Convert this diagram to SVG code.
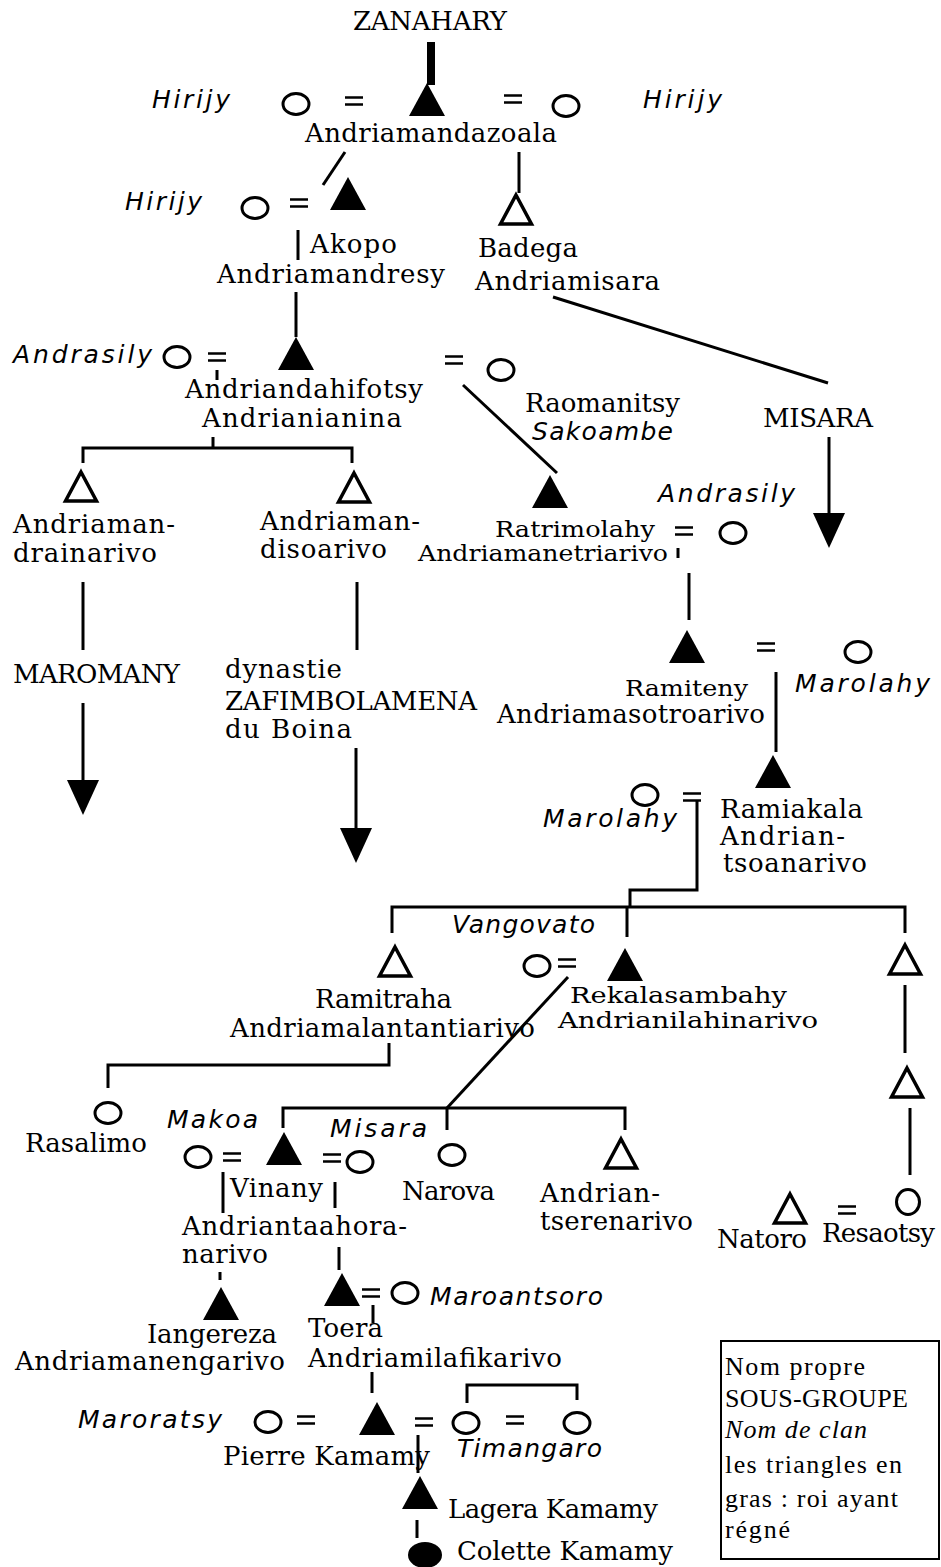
<svg xmlns="http://www.w3.org/2000/svg" width="941" height="1567" viewBox="0 0 941 1567">
<style>
.t{font-family:"DejaVu Serif","Liberation Serif",serif;font-size:26px;fill:#000}
.s{font-size:22px}
.i{font-family:"DejaVu Sans","Liberation Sans",sans-serif;font-style:italic;font-size:25px;fill:#000}
.lg{font-family:"Liberation Serif","Times New Roman",serif;font-size:26px;fill:#000}
.li{font-family:"Liberation Serif","Times New Roman",serif;font-style:italic;font-size:26px;fill:#000}
.ln{stroke:#000;stroke-width:3;fill:none}
.tf{fill:#000}
.to{fill:none;stroke:#000;stroke-width:3.5;stroke-linejoin:miter}
.ci{fill:none;stroke:#000;stroke-width:3}
.eq{stroke:#000;stroke-width:2.5;fill:none}
.ar{stroke:#000;stroke-width:3;fill:none;marker-end:url(#ah)}
</style>
<defs>
<path id="tf" d="M0,0L18,33L-18,33Z"/>
<path id="to" d="M0,2L15.5,31L-15.5,31Z"/>
<ellipse id="ci" cx="0" cy="0" rx="13" ry="10.5"/>
<path id="eq" d="M0,-3.5H18M0,3.5H18"/>
<marker id="ah" markerUnits="userSpaceOnUse" markerWidth="35" markerHeight="32" refX="0" refY="16" orient="auto" viewBox="0 0 35 32"><path d="M0,0L35,16L0,32Z" fill="#000"/></marker>
</defs>
<rect width="941" height="1567" fill="#fff"/>

<g id="connectors">
  <rect x="427" y="42" width="8" height="43" fill="#000"/>
  <path class="ln" d="M345,152L323,185"/>
  <path class="ln" d="M519,152V193"/>
  <path class="ln" d="M298,230V260"/>
  <path class="ln" d="M296,292V337"/>
  <path class="ln" d="M553,297L828,383"/>
  <path class="ar" d="M829,437V513"/>
  <path class="ln" d="M217,370V380"/>
  <path class="ln" d="M463,385L557,473"/>
  <path class="ln" d="M213,437V448M83,463V448H352V463"/>
  <path class="ln" d="M83,582V650"/>
  <path class="ar" d="M83,703V780"/>
  <path class="ln" d="M357,582V650"/>
  <path class="ar" d="M356,748V828"/>
  <path class="ln" d="M678,548V558"/>
  <path class="ln" d="M689,573V620"/>
  <path class="ln" d="M776,672V752"/>
  <path class="ln" d="M697,800V890H630V907"/>
  <path class="ln" d="M392,933V907H905V933M627,907V937"/>
  <path class="ln" d="M905,985V1053"/>
  <path class="ln" d="M910,1108V1175"/>
  <path class="ln" d="M389,1043V1065H108V1088"/>
  <path class="ln" d="M568,977L447,1108"/>
  <path class="ln" d="M283,1128V1108H625V1130M447,1108V1130"/>
  <path class="ln" d="M223,1172V1213"/>
  <path class="ln" d="M335,1182V1208"/>
  <path class="ln" d="M220,1272V1280"/>
  <path class="ln" d="M339,1247V1270"/>
  <path class="ln" d="M373,1305V1323"/>
  <path class="ln" d="M372,1372V1393"/>
  <path class="ln" d="M418,1435V1473"/>
  <path class="ln" d="M467,1403V1385H577V1400"/>
  <path class="ln" d="M417,1520V1538"/>
</g>

<g id="zanahary">
  <text class="t" x="353" y="30" textLength="154">ZANAHARY</text>
</g>

<g id="andriamandazoala">
  <use href="#tf" class="tf" x="427" y="83"/>
  <text class="t" x="305" y="142" textLength="252">Andriamandazoala</text>
</g>
<g id="hirijy1">
  <text class="i" x="152" y="108" textLength="78">Hirijy</text>
  <use href="#ci" class="ci" x="296" y="104"/>
  <use href="#eq" class="eq" x="345" y="101"/>
</g>
<g id="hirijy2">
  <use href="#eq" class="eq" x="504" y="99"/>
  <use href="#ci" class="ci" x="566" y="106"/>
  <text class="i" x="643" y="108" textLength="79">Hirijy</text>
</g>

<g id="akopo">
  <use href="#tf" class="tf" x="348" y="177"/>
  <text class="t" x="310" y="253" textLength="87">Akopo</text>
  <text class="t" x="217" y="283" textLength="228">Andriamandresy</text>
</g>
<g id="hirijy3">
  <text class="i" x="125" y="210" textLength="77">Hirijy</text>
  <use href="#ci" class="ci" x="255" y="208"/>
  <use href="#eq" class="eq" x="290" y="203"/>
</g>

<g id="badega">
  <use href="#to" class="to" x="516" y="193"/>
  <text class="t" x="478" y="257" textLength="100">Badega</text>
  <text class="t" x="475" y="290" textLength="185">Andriamisara</text>
</g>

<g id="andriandahifotsy">
  <use href="#tf" class="tf" x="296" y="337"/>
  <text class="t" x="185" y="398" textLength="238">Andriandahifotsy</text>
  <text class="t" x="202" y="427" textLength="200">Andrianianina</text>
</g>
<g id="andrasily1">
  <text class="i" x="13" y="363" textLength="139">Andrasily</text>
  <use href="#ci" class="ci" x="177" y="357"/>
  <use href="#eq" class="eq" x="208" y="357"/>
</g>
<g id="raomanitsy">
  <use href="#eq" class="eq" x="445" y="360"/>
  <use href="#ci" class="ci" x="501" y="370"/>
  <text class="t" x="525" y="412" textLength="155">Raomanitsy</text>
  <text class="i" x="532" y="440" textLength="141">Sakoambe</text>
</g>

<g id="misara">
  <text class="t" x="763" y="427" textLength="110">MISARA</text>
</g>

<g id="andriamandrainarivo">
  <use href="#to" class="to" x="81" y="470"/>
  <text class="t" x="13" y="533" textLength="162">Andriaman-</text>
  <text class="t" x="13" y="562" textLength="144">drainarivo</text>
</g>
<g id="maromany">
  <text class="t" x="13" y="683" textLength="167">MAROMANY</text>
</g>

<g id="andriamandisoarivo">
  <use href="#to" class="to" x="354" y="471"/>
  <text class="t" x="260" y="530" textLength="160">Andriaman-</text>
  <text class="t" x="260" y="558" textLength="127">disoarivo</text>
</g>
<g id="zafimbolamena">
  <text class="t" x="225" y="678" textLength="117">dynastie</text>
  <text class="t" x="225" y="710" textLength="252">ZAFIMBOLAMENA</text>
  <text class="t" x="225" y="738" textLength="127">du Boina</text>
</g>

<g id="ratrimolahy">
  <use href="#tf" class="tf" x="550" y="475"/>
  <text class="t s" x="495" y="537" textLength="160" lengthAdjust="spacingAndGlyphs">Ratrimolahy</text>
  <text class="t s" x="418" y="561" textLength="250" lengthAdjust="spacingAndGlyphs">Andriamanetriarivo</text>
</g>
<g id="andrasily2">
  <text class="i" x="658" y="502" textLength="137">Andrasily</text>
  <use href="#eq" class="eq" x="675" y="531"/>
  <use href="#ci" class="ci" x="733" y="533"/>
</g>

<g id="ramiteny">
  <use href="#tf" class="tf" x="687" y="630"/>
  <text class="t s" x="625" y="696" textLength="123" lengthAdjust="spacingAndGlyphs">Ramiteny</text>
  <text class="t" x="497" y="723" textLength="268">Andriamasotroarivo</text>
</g>
<g id="marolahy1">
  <use href="#eq" class="eq" x="757" y="647"/>
  <use href="#ci" class="ci" x="858" y="652"/>
  <text class="i" x="795" y="692" textLength="135">Marolahy</text>
</g>

<g id="ramiakala">
  <use href="#tf" class="tf" x="773" y="755"/>
  <text class="t" x="720" y="818" textLength="143">Ramiakala</text>
  <text class="t" x="720" y="845" textLength="125">Andrian-</text>
  <text class="t" x="723" y="872" textLength="144">tsoanarivo</text>
</g>
<g id="marolahy2">
  <use href="#ci" class="ci" x="645" y="795"/>
  <use href="#eq" class="eq" x="683" y="797"/>
  <text class="i" x="543" y="827" textLength="134">Marolahy</text>
</g>

<g id="ramitraha">
  <use href="#to" class="to" x="395" y="945"/>
  <text class="t" x="315" y="1008" textLength="137">Ramitraha</text>
  <text class="t" x="230" y="1037" textLength="305">Andriamalantantiarivo</text>
</g>
<g id="vangovato">
  <text class="i" x="452" y="933" textLength="143">Vangovato</text>
  <use href="#ci" class="ci" x="537" y="966"/>
  <use href="#eq" class="eq" x="558" y="963"/>
</g>
<g id="rekalasambahy">
  <use href="#tf" class="tf" x="625" y="948"/>
  <text class="t s" x="570" y="1003" textLength="217" lengthAdjust="spacingAndGlyphs">Rekalasambahy</text>
  <text class="t s" x="558" y="1028" textLength="260" lengthAdjust="spacingAndGlyphs">Andrianilahinarivo</text>
</g>
<g id="brother1">
  <use href="#to" class="to" x="905" y="943"/>
</g>
<g id="brother2">
  <use href="#to" class="to" x="907" y="1066"/>
</g>
<g id="natoro">
  <use href="#to" class="to" x="790" y="1192"/>
  <text class="t" x="717" y="1248" textLength="90">Natoro</text>
</g>
<g id="resaotsy">
  <use href="#eq" class="eq" x="838" y="1210"/>
  <ellipse class="ci" cx="908" cy="1202" rx="11.5" ry="12.5"/>
  <text class="t" x="822" y="1242" textLength="113">Resaotsy</text>
</g>

<g id="rasalimo">
  <use href="#ci" class="ci" x="108" y="1113"/>
  <text class="t" x="25" y="1152" textLength="122">Rasalimo</text>
</g>

<g id="vinany">
  <use href="#tf" class="tf" x="284" y="1132"/>
  <text class="t" x="230" y="1197" textLength="93">Vinany</text>
  <text class="t" x="182" y="1235" textLength="225">Andriantaahora-</text>
  <text class="t" x="182" y="1263" textLength="86">narivo</text>
</g>
<g id="makoa">
  <text class="i" x="167" y="1128" textLength="91">Makoa</text>
  <use href="#ci" class="ci" x="198" y="1157"/>
  <use href="#eq" class="eq" x="223" y="1157"/>
</g>
<g id="misara-wife">
  <use href="#eq" class="eq" x="323" y="1158"/>
  <use href="#ci" class="ci" x="360" y="1162"/>
  <text class="i" x="330" y="1137" textLength="97">Misara</text>
</g>
<g id="narova">
  <use href="#ci" class="ci" x="452" y="1155"/>
  <text class="t" x="402" y="1200" textLength="93">Narova</text>
</g>
<g id="andriantserenarivo">
  <use href="#to" class="to" x="621" y="1137"/>
  <text class="t" x="540" y="1202" textLength="120">Andrian-</text>
  <text class="t" x="540" y="1230" textLength="153">tserenarivo</text>
</g>

<g id="iangereza">
  <use href="#tf" class="tf" x="221" y="1287"/>
  <text class="t" x="147" y="1343" textLength="130">Iangereza</text>
  <text class="t" x="15" y="1370" textLength="270">Andriamanengarivo</text>
</g>

<g id="toera">
  <use href="#tf" class="tf" x="342" y="1273"/>
  <text class="t" x="308" y="1337" textLength="75">Toera</text>
  <text class="t" x="308" y="1367" textLength="254">Andriamilafikarivo</text>
</g>
<g id="maroantsoro">
  <use href="#eq" class="eq" x="362" y="1293"/>
  <use href="#ci" class="ci" x="405" y="1293"/>
  <text class="i" x="430" y="1305" textLength="173">Maroantsoro</text>
</g>

<g id="pierre-kamamy">
  <use href="#tf" class="tf" x="377" y="1402"/>
  <text class="t" x="223" y="1465" textLength="207">Pierre Kamamy</text>
</g>
<g id="maroratsy">
  <text class="i" x="78" y="1428" textLength="144">Maroratsy</text>
  <use href="#ci" class="ci" x="268" y="1422"/>
  <use href="#eq" class="eq" x="297" y="1420"/>
</g>
<g id="timangaro">
  <use href="#eq" class="eq" x="415" y="1422"/>
  <use href="#ci" class="ci" x="466" y="1423"/>
  <use href="#eq" class="eq" x="506" y="1420"/>
  <use href="#ci" class="ci" x="577" y="1423"/>
  <text class="i" x="457" y="1457" textLength="145">Timangaro</text>
</g>

<g id="lagera-kamamy">
  <use href="#tf" class="tf" x="420" y="1476"/>
  <text class="t" x="448" y="1518" textLength="210">Lagera Kamamy</text>
</g>
<g id="colette-kamamy">
  <ellipse cx="425" cy="1555" rx="17" ry="13" fill="#000"/>
  <text class="t" x="457" y="1560" textLength="216">Colette Kamamy</text>
</g>

<g id="legend">
  <rect x="721" y="1341" width="218" height="218" fill="none" stroke="#000" stroke-width="2"/>
  <text class="lg" x="725" y="1375" textLength="140">Nom propre</text>
  <text class="lg" x="725" y="1407" textLength="183">SOUS-GROUPE</text>
  <text class="li" x="725" y="1438" textLength="142">Nom de clan</text>
  <text class="lg" x="725" y="1473" textLength="177">les triangles en</text>
  <text class="lg" x="725" y="1507" textLength="173">gras : roi ayant</text>
  <text class="lg" x="725" y="1538" textLength="65">régné</text>
</g>
</svg>
